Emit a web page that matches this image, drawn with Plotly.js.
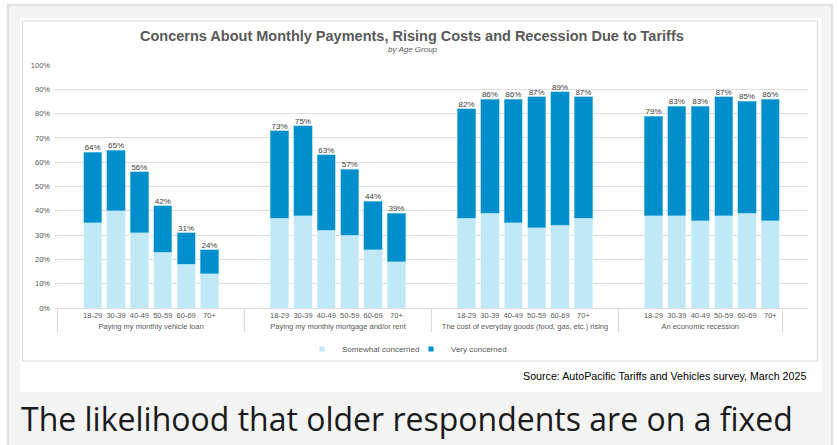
<!DOCTYPE html>
<html>
<head>
<meta charset="utf-8">
<script src="https://cdn.plot.ly/plotly-3.0.1.min.js"></script>
<style>
html,body{margin:0;padding:0;background:#fff;}
#chart{width:838px;height:445px;}
</style>
</head>
<body>
<div id="chart"></div>
<script>
// ---- data ----
const groups = [
  "Paying my monthly vehicle loan",
  "Paying my monthly mortgage and/or rent",
  "The cost of everyday goods (food, gas, etc.) rising",
  "An economic recession"
];
const ageGroups = ["18-29", "30-39", "40-49", "50-59", "60-69", "70+"];
const somewhatConcerned = [
  [35, 40, 31, 23, 18, 14],
  [37, 38, 32, 30, 24, 19],
  [37, 39, 35, 33, 34, 37],
  [38, 38, 36, 38, 39, 36]
];
const veryConcerned = [
  [29, 25, 25, 19, 13, 10],
  [36, 37, 31, 27, 20, 20],
  [45, 47, 51, 54, 55, 50],
  [41, 45, 47, 49, 46, 50]
];
const totalConcerned = [
  [64, 65, 56, 42, 31, 24],
  [73, 75, 63, 57, 44, 39],
  [82, 86, 86, 87, 89, 87],
  [79, 83, 83, 87, 85, 86]
];
const seriesNames = ["Somewhat concerned", "Very concerned"];
const seriesColors = ["#c0e8f6", "#008fcd"];
const yTicks = [0, 10, 20, 30, 40, 50, 60, 70, 80, 90, 100];

// ---- build multicategory axis (blank spacer slots between groups, as in the source) ----
const xG = [], xC = [], ySome = [], yVery = [];
const tG = [], tC = [], tY = [], tT = [];
groups.forEach((g, gi) => {
  xG.push(g); xC.push(" "); ySome.push(null); yVery.push(null);
  ageGroups.forEach((a, ai) => {
    xG.push(g); xC.push(a);
    ySome.push(somewhatConcerned[gi][ai]);
    yVery.push(veryConcerned[gi][ai]);
    tG.push(g); tC.push(a);
    tY.push(totalConcerned[gi][ai]);
    tT.push(totalConcerned[gi][ai] + "%");
  });
  if (gi < groups.length - 1) {
    xG.push(g); xC.push("  "); ySome.push(null); yVery.push(null);
  }
});

// ---- pixel helpers for decoration placement ----
const L = 55, R = 30, T = 65, B = 137, W = 838, H = 445;
const pw = W - L - R, ph = H - T - B;
const px = v => (v - L) / pw;
const py = v => (H - B - v) / ph;

const lab = "'Liberation Sans', Arial, sans-serif";

const traces = [
  {
    type: "bar", name: seriesNames[0], x: [xG, xC], y: ySome, showlegend: false,
    marker: {color: seriesColors[0], line: {color: "#e6f6fc", width: 0.6}},
    hoverinfo: "skip"
  },
  {
    type: "bar", name: seriesNames[1], x: [xG, xC], y: yVery, showlegend: false,
    marker: {color: seriesColors[1], line: {color: "#7fcbe9", width: 0.6}},
    hoverinfo: "skip"
  },
  {
    type: "scatter", mode: "text", x: [tG, tC], y: tY, text: tT,
    textposition: "top center", showlegend: false, cliponaxis: false,
    textfont: {family: lab, size: 8, color: "#404040"}, hoverinfo: "skip"
  },
  // legend keys (small square swatches like the source)
  {
    type: "scatter", mode: "markers", name: seriesNames[0], x: [null], y: [null],
    marker: {symbol: "square", size: 5, color: seriesColors[0]}, hoverinfo: "skip"
  },
  {
    type: "scatter", mode: "markers", name: seriesNames[1], x: [null], y: [null],
    marker: {symbol: "square", size: 5, color: seriesColors[1]}, hoverinfo: "skip"
  }
];

const layout = {
  width: W, height: H,
  margin: {l: L, r: R, t: T, b: B, pad: 0},
  paper_bgcolor: "#ffffff",
  plot_bgcolor: "rgba(0,0,0,0)",
  barmode: "stack",
  bargap: 0.22,
  showlegend: true,
  legend: {
    orientation: "h", x: px(302), xanchor: "left", y: py(349), yanchor: "middle",
    font: {family: lab, size: 8, color: "#595959"}, itemwidth: 30,
    entrywidth: 64,
    bgcolor: "rgba(0,0,0,0)", tracegroupgap: 0, traceorder: "normal"
  },
  xaxis: {
    type: "multicategory",
    showline: true, linecolor: "#d9d9d9", linewidth: 1,
    showgrid: false, ticks: "", tickangle: 0,
    showdividers: true, dividercolor: "#d9d9d9", dividerwidth: 1,
    tickfont: {family: lab, size: 7.5, color: "#595959"},
    fixedrange: true
  },
  yaxis: {
    range: [0, 100], tickvals: yTicks, ticktext: yTicks.map(v => v + "%"),
    showgrid: true, gridcolor: "#dedede", gridwidth: 1,
    zeroline: false, showline: false, ticks: "",
    ticklabelstandoff: 4,
    tickfont: {family: lab, size: 7.5, color: "#595959"},
    fixedrange: true
  },
  shapes: [
    {type: "rect", xref: "paper", yref: "paper", layer: "below",
     x0: px(8), x1: px(832), y0: py(5), y1: py(460),
     fillcolor: "#f4f4f4", line: {color: "#e2e2e2", width: 2.5}},
    {type: "rect", xref: "paper", yref: "paper", layer: "below",
     x0: px(20), x1: px(822), y0: py(18), y1: py(392),
     fillcolor: "#ffffff", line: {width: 0}},
    {type: "rect", xref: "paper", yref: "paper", layer: "below",
     x0: px(22.5), x1: px(817.5), y0: py(21), y1: py(361),
     fillcolor: "#ffffff", line: {color: "#d9d9d9", width: 1}}
  ],
  annotations: [
    {text: "Concerns About Monthly Payments, Rising Costs and Recession Due to Tariffs",
     xref: "paper", yref: "paper", x: px(412), y: py(36), xanchor: "center", yanchor: "middle",
     showarrow: false, font: {family: lab, size: 14.5, color: "#595959", weight: "bold"}},
    {text: "by Age Group",
     xref: "paper", yref: "paper", x: px(413), y: py(49), xanchor: "center", yanchor: "middle",
     showarrow: false, font: {family: lab, size: 8, color: "#595959", style: "italic"}},
    {text: "Source: AutoPacific Tariffs and Vehicles survey, March 2025",
     xref: "paper", yref: "paper", x: px(808), y: py(376), xanchor: "right", yanchor: "middle",
     showarrow: false, font: {family: lab, size: 10.7, color: "#000000"}},
    {text: "The likelihood that older respondents are on a fixed",
     xref: "paper", yref: "paper", x: px(19), y: py(418), xanchor: "left", yanchor: "middle",
     showarrow: false, font: {family: "'Open Sans', 'Noto Sans', sans-serif", size: 32, color: "#1a1a1a"}}
  ]
};

Plotly.newPlot("chart", traces, layout, {displayModeBar: false, staticPlot: true});
</script>
</body>
</html>
